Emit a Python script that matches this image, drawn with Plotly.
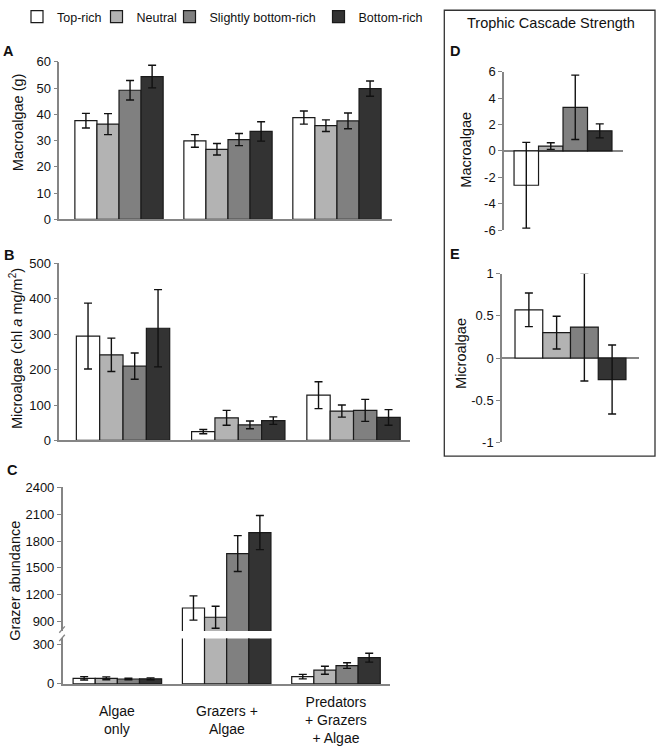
import plotly.graph_objects as go

# ---------------- data ----------------
groups = ["Algae only", "Grazers + Algae", "Predators + Grazers + Algae"]
group_labels = ["Algae<br>only", "Grazers +<br>Algae", "Predators<br>+ Grazers<br>+ Algae"]
treatments = ["Top-rich", "Neutral", "Slightly bottom-rich", "Bottom-rich"]
colors = ["#ffffff", "#b3b3b3", "#808080", "#333333"]

# Panel A: macroalgae (g), rows = treatments, cols = groups
macro_mean = [[37.6, 29.9, 38.8], [36.3, 26.7, 35.7], [49.2, 30.4, 37.5], [54.4, 33.5, 49.8]]
macro_err = [[2.8, 2.4, 2.5], [4.0, 2.2, 2.2], [3.7, 2.3, 3.0], [4.3, 3.7, 2.9]]

# Panel B: microalgae (chl a mg/m2)
micro_mean = [[295, 25, 128], [242, 64, 83], [210, 44, 85], [317, 56, 65]]
micro_err = [[93, 6, 38], [47, 21, 17], [37, 11, 31], [109, 10.5, 22]]

# Panel C: grazer abundance
grazer_mean = [[42, 1053, 55], [42, 950, 103], [37, 1660, 138], [38, 1894, 197]]
grazer_err = [[13, 135, 17], [11, 122, 30], [6, 200, 21], [7, 190, 33]]

# Panels D, E: trophic cascade strength
cascade_macro_mean = [-2.6, 0.37, 3.3, 1.52]
cascade_macro_err = [3.25, 0.25, 2.44, 0.53]
cascade_micro_mean = [0.573, 0.302, 0.367, -0.256]
cascade_micro_err = [0.2, 0.195, 0.64, 0.41]

# tick labels
a_ticks = [0, 10, 20, 30, 40, 50, 60]
b_ticks = [0, 100, 200, 300, 400, 500]
c_upper_ticks = [900, 1200, 1500, 1800, 2100, 2400]
c_lower_ticks = [0, 300]
d_ticks = [-6, -4, -2, 0, 2, 4, 6]
d_ticktext = ["-6", "-4", "-2", "0", "2", "4", "6"]
e_ticks = [-1, -0.5, 0, 0.5, 1]
e_ticktext = ["-1", "-0.5", "0", "0.5", "1"]

# ---------------- layout helpers ----------------
W, H = 660, 751
FONT = "Liberation Sans, Arial, sans-serif"
AXC = "#858585"
TXT = "#111111"


def px_x(p):
    return p / W


def px_y(p):
    return 1 - p / H


fig = go.Figure()


def err(arr):
    return dict(type="data", array=arr, visible=True, color="#111111", thickness=1.4, width=4)


bar_line = dict(color="#1a1a1a", width=1.2)
legend_widths = [34.5, 28, 104, 80]

# Panel A
for i, t in enumerate(treatments):
    fig.add_trace(go.Bar(x=groups, y=macro_mean[i], error_y=err(macro_err[i]), name=t,
                         marker=dict(color=colors[i], line=bar_line), xaxis="x", yaxis="y",
                         showlegend=True, legendwidth=legend_widths[i]))
# Panel B
for i, t in enumerate(treatments):
    fig.add_trace(go.Bar(x=groups, y=micro_mean[i], error_y=err(micro_err[i]), name=t,
                         marker=dict(color=colors[i], line=bar_line), xaxis="x2", yaxis="y2",
                         showlegend=False))
# Panel C upper
for i, t in enumerate(treatments):
    fig.add_trace(go.Bar(x=groups, y=grazer_mean[i], error_y=err(grazer_err[i]), name=t,
                         marker=dict(color=colors[i], line=bar_line), xaxis="x3", yaxis="y3",
                         showlegend=False, cliponaxis=True))
# Panel C lower
for i, t in enumerate(treatments):
    fig.add_trace(go.Bar(x=groups, y=grazer_mean[i], error_y=err(grazer_err[i]), name=t,
                         marker=dict(color=colors[i], line=bar_line), xaxis="x4", yaxis="y4",
                         showlegend=False, cliponaxis=True))
# Panel D
for i, t in enumerate(treatments):
    fig.add_trace(go.Bar(x=[0], y=[cascade_macro_mean[i]], error_y=err([cascade_macro_err[i]]), name=t,
                         marker=dict(color=colors[i], line=bar_line), xaxis="x5", yaxis="y5",
                         showlegend=False))
# Panel E
for i, t in enumerate(treatments):
    fig.add_trace(go.Bar(x=[0], y=[cascade_micro_mean[i]], error_y=err([cascade_micro_err[i]]), name=t,
                         marker=dict(color=colors[i], line=bar_line), xaxis="x6", yaxis="y6",
                         showlegend=False))


def xax(domain, rng, showline=True, cat=True):
    d = dict(domain=domain, range=rng, showline=showline, linecolor=AXC, linewidth=1.5,
             showticklabels=False, ticks="", showgrid=False, zeroline=False, fixedrange=True)
    if cat:
        d["type"] = "category"
        d["categoryorder"] = "array"
        d["categoryarray"] = groups
    return d


def yax(domain, rng, tickvals, ticktext=None, zeroline=False):
    return dict(domain=domain, range=rng, showline=True, linecolor=AXC, linewidth=1.5,
                ticks="outside", ticklen=4, tickcolor=AXC, tickwidth=1.2,
                tickvals=tickvals, ticktext=ticktext if ticktext else [str(v) for v in tickvals],
                tickfont=dict(size=13, color=TXT, family=FONT), showgrid=False,
                zeroline=zeroline, zerolinecolor=AXC, zerolinewidth=1.5, fixedrange=True)


layout = dict(
    width=W, height=H, margin=dict(l=0, r=0, t=0, b=0),
    paper_bgcolor="white", plot_bgcolor="rgba(0,0,0,0)",
    barmode="group", bargap=0.19, bargroupgap=0,
    font=dict(family=FONT, color=TXT, size=13),
    showlegend=True,
    legend=dict(orientation="h", x=px_x(17), y=px_y(-5), xanchor="left", yanchor="top",
                font=dict(size=12.5, family=FONT, color=TXT), bgcolor="rgba(0,0,0,0)",
                traceorder="normal", itemclick=False),
    xaxis=xax([px_x(59.3), px_x(392)], [-0.548, 2.505]),
    yaxis=yax([px_y(216.7), px_y(56)], [0, 60], a_ticks),
    xaxis2=xax([px_x(59.3), px_x(410)], [-0.553, 2.49]),
    yaxis2=yax([px_y(442.3), px_y(261.7)], [0, 500], b_ticks),
    xaxis3=xax([px_x(62.7), px_x(390)], [-0.50, 2.494], showline=False),
    yaxis3=yax([px_y(636.7), px_y(490)], [797, 2400], c_upper_ticks),
    xaxis4=xax([px_x(62.7), px_x(390)], [-0.50, 2.494]),
    yaxis4=yax([px_y(690.7), px_y(644.3)], [0, 342], c_lower_ticks),
    xaxis5=xax([px_x(504), px_x(623)], [-0.488, 0.496], showline=False, cat=False),
    yaxis5=yax([px_y(227.7), px_y(66)], [-6, 6], d_ticks, d_ticktext, zeroline=True),
    xaxis6=xax([px_x(502), px_x(639)], [-0.5, 0.5], showline=False, cat=False),
    yaxis6=yax([px_y(444), px_y(272.3)], [-1, 1], e_ticks, e_ticktext, zeroline=True),
)
for k in ["yaxis", "yaxis2", "yaxis3", "yaxis4", "yaxis5", "yaxis6"]:
    n = k.replace("yaxis", "")
    layout[k]["anchor"] = "x" + n
for k in ["xaxis", "xaxis2", "xaxis3", "xaxis4", "xaxis5", "xaxis6"]:
    n = k.replace("xaxis", "")
    layout[k]["anchor"] = "y" + n
fig.update_layout(**layout)

annotations = []


def ann(text, x, y, size=14, bold=False, angle=0, **kw):
    annotations.append(dict(text=("<b>%s</b>" % text) if bold else text, x=px_x(x), y=px_y(y),
                            xref="paper", yref="paper", showarrow=False, textangle=angle,
                            xanchor="center", yanchor="middle",
                            font=dict(size=size, family=FONT, color=TXT), **kw))


# panel letters
ann("A", 8, 45, size=14.5, bold=True)
ann("B", 9, 253, size=14.5, bold=True)
ann("C", 12, 472, size=14.5, bold=True)
ann("D", 455, 45, size=14.5, bold=True)
ann("E", 455, 252, size=14.5, bold=True)
# titles
ann("Trophic Cascade Strength", 550.5, 16, size=14.5)
ann("Macroalgae (g)", 17.5, 118, size=14.5, angle=-90)
ann("Microalgae (chl <i>a</i> mg/m<sup>2</sup>)", 16, 349, size=14.5, angle=-90)
ann("Grazer abundance", 15, 585.5, size=14.5, angle=-90)
ann("Macroalgae", 465.6, 146, size=14.5, angle=-90)
ann("Microalgae", 461, 354, size=14.5, angle=-90)

# category labels under panel C, positioned on the category axis
for g, lab in zip(groups, group_labels):
    annotations.append(dict(text=lab, x=g, y=px_y(728), xref="x4", yref="paper", showarrow=False,
                            xanchor="center", yanchor="middle",
                            font=dict(size=14, family=FONT, color=TXT)))
fig.update_layout(annotations=annotations)

shapes = [
    # box around D/E
    dict(type="rect", xref="paper", yref="paper", x0=px_x(444.3), x1=px_x(655), y0=px_y(458.3), y1=px_y(3.3),
         line=dict(color="#333333", width=1.3)),
    # axis break marks
    dict(type="line", xref="paper", yref="paper", x0=px_x(59.3), y0=px_y(638.5), x1=px_x(64.8), y1=px_y(632.0),
         line=dict(color=AXC, width=1.3)),
    dict(type="line", xref="paper", yref="paper", x0=px_x(59.3), y0=px_y(647.0), x1=px_x(64.8), y1=px_y(640.5),
         line=dict(color=AXC, width=1.3)),
]
fig.update_layout(shapes=shapes)

fig.write_html("out.html", config={"displayModeBar": False},
               post_script="document.body.style.margin='0';document.body.style.overflow='hidden';")
